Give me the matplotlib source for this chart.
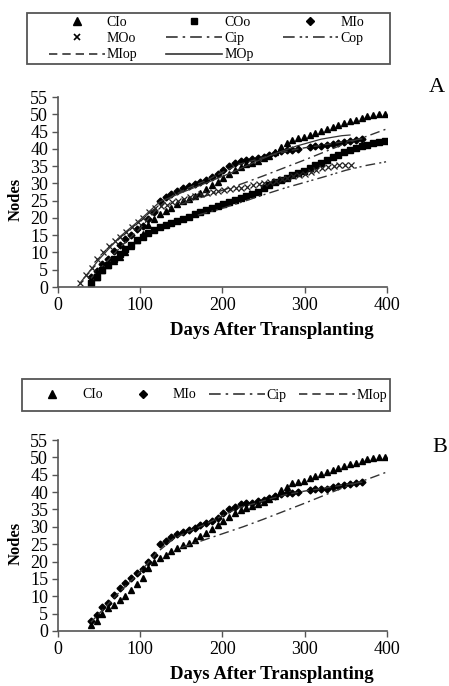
"""Node counts vs days after transplanting: panel A (all series), panel B (subset)."""
import matplotlib
matplotlib.use("Agg")
import matplotlib.pyplot as plt
from matplotlib.lines import Line2D
from matplotlib.patches import Rectangle

plt.rcParams["font.family"] = ["Liberation Serif", "DejaVu Serif"]

# ---------------------------------------------------------------------------
# Data
# ---------------------------------------------------------------------------
CIO_DAYS = [40, 47, 54, 61, 68, 75, 82, 89, 96, 103, 110, 117, 124, 131, 138, 145,
            152, 159, 166, 173, 180, 187, 194, 201, 208, 215, 222, 229, 236, 243,
            250, 257, 264, 271, 278, 285, 292, 299, 306, 313, 320, 327, 334, 341,
            348, 355, 362, 369, 376, 383, 390, 397]
CIO = [1.7, 3.0, 4.8, 6.5, 7.6, 8.8, 10.2, 11.8, 13.6, 15.4, 18.0, 19.8, 21.0, 22.0,
       23.0, 24.0, 24.8, 25.4, 26.3, 27.3, 28.3, 29.4, 30.5, 31.6, 32.8, 34.0, 34.8,
       35.5, 36.0, 36.6, 37.2, 38.0, 39.0, 40.6, 41.6, 42.5, 43.0, 43.3, 44.0, 44.6,
       45.2, 45.8, 46.3, 47.0, 47.6, 48.0, 48.4, 49.0, 49.5, 49.8, 50.2, 50.2]

MIO_DAYS = [40, 47, 54, 61, 68, 75, 82, 89, 96, 103, 110, 117, 124, 131, 138, 145,
            152, 159, 166, 173, 180, 187, 194, 201, 208, 215, 222, 229, 236, 243,
            250, 257, 264, 271, 278, 285, 292, 306, 313, 320, 327, 334, 341, 348,
            355, 362, 369]
MIO = [2.8, 4.5, 6.8, 8.2, 10.5, 12.3, 13.8, 15.2, 16.8, 17.8, 19.8, 21.8, 25.0, 26.0,
       27.0, 27.8, 28.6, 29.2, 29.8, 30.4, 31.0, 31.8, 32.6, 34.0, 35.0, 35.8, 36.6,
       36.8, 37.0, 37.3, 37.6, 38.2, 38.8, 39.4, 39.8, 39.8, 40.0, 40.6, 40.8, 40.9,
       41.0, 41.4, 41.8, 42.1, 42.4, 42.6, 42.8]

COO_DAYS = CIO_DAYS
COO = [1.2, 2.8, 4.8, 6.4, 8.0, 9.6, 11.0, 12.3, 13.5, 14.6, 15.7, 16.6, 17.3, 18.0,
       18.6, 19.2, 19.8, 20.4, 21.0, 21.6, 22.2, 22.8, 23.4, 24.0, 24.6, 25.3, 25.9,
       26.4, 26.8, 27.6, 28.6, 29.6, 30.3, 31.0, 31.7, 32.3, 33.0, 33.6, 34.4, 35.2,
       36.0, 36.8, 37.6, 38.3, 39.0, 39.6, 40.2, 40.7, 41.2, 41.6, 42.0, 42.2]

MOO_DAYS = [27, 34, 41, 48, 55, 62, 69, 76, 83, 90, 97, 104, 111, 118, 125, 132, 139,
            146, 153, 160, 167, 174, 181, 188, 195, 202, 209, 216, 223, 230, 237, 244,
            251, 258, 265, 272, 279, 286, 293, 300, 307, 314, 321, 328, 335, 342, 349,
            356]
MOO = [1.2, 3.5, 5.5, 8.0, 10.0, 11.8, 13.2, 14.6, 16.0, 17.4, 18.8, 20.0, 21.6, 22.8,
       23.4, 23.8, 24.5, 25.0, 25.6, 26.0, 26.4, 26.8, 27.1, 27.4, 27.8, 28.2, 28.4,
       28.6, 28.8, 29.0, 29.4, 29.8, 30.0, 30.4, 30.8, 31.2, 31.6, 32.0, 32.4, 32.8,
       33.2, 33.8, 34.4, 34.8, 35.0, 35.2, 35.4, 35.4]

CIP_DAYS = [150, 175, 200, 225, 250, 275, 300, 325, 350, 375, 400]
CIP = [24.0, 26.0, 28.0, 30.0, 32.2, 34.5, 36.8, 39.2, 41.6, 43.6, 45.8]

COP_DAYS = [170, 200, 225, 250, 275, 300, 325, 350, 375, 400]
COP = [20.8, 22.8, 24.7, 26.7, 28.6, 30.3, 32.0, 33.8, 35.2, 36.3]

MIOP_DAYS = [40, 60, 80, 100, 120, 140, 160, 180, 200, 220, 240, 260, 280, 300, 320,
             340, 360, 370]
MIOP = [2.5, 7.5, 12.5, 17.0, 22.5, 26.5, 28.8, 30.8, 33.2, 35.5, 36.8, 38.2, 39.4,
        40.3, 41.0, 41.8, 42.5, 42.9]

MOP_DAYS = [27, 50, 75, 100, 124, 150, 181, 210, 233, 260, 290, 320, 345, 355]
MOP = [1.2, 8.0, 14.5, 19.5, 24.7, 27.3, 30.2, 33.0, 35.5, 38.3, 40.8, 42.8, 43.8, 44.0]

DASHDOT = (0, (7, 3, 1.5, 3))
DASHDOTDOT = (0, (7, 3, 1.5, 2, 1.5, 3))
DASHED = (0, (5, 3))
MS = 4.4
W, H_PX = 449, 686


def style_axes(ax):
    ax.set_xlim(0, 400)
    ax.set_ylim(0, 55)
    ax.set_xticks(range(0, 401, 100))
    ax.set_yticks(range(0, 56, 5))
    for s in ("top", "right"):
        ax.spines[s].set_visible(False)
    for s in ("left", "bottom"):
        ax.spines[s].set_color("#555555")
        ax.spines[s].set_linewidth(1.2)
    ax.tick_params(direction="out", length=4, width=1, colors="#555555",
                   labelcolor="black", labelsize=13, pad=3)
    ax.set_ylabel("Nodes", fontsize=12, fontweight="bold", labelpad=0)
    ax.set_xlabel("Days After Transplanting", fontsize=13.5, fontweight="bold")
    ax.xaxis.set_label_coords(0.65, -0.185)
    ax.yaxis.set_label_coords(-0.105, 0.46)


def plot_series(ax, full):
    ax.plot(CIO_DAYS, CIO, ls="none", marker="^", ms=MS, color="black")
    ax.plot(MIO_DAYS, MIO, ls="none", marker="D", ms=MS - 0.9, color="black")
    ax.plot(CIP_DAYS, CIP, ls=DASHDOT, lw=1, color="#333333")
    ax.plot(MIOP_DAYS, MIOP, ls=DASHED, lw=1, color="#333333")
    if full:
        ax.plot(COO_DAYS, COO, ls="none", marker="s", ms=MS, color="black")
        ax.plot(MOO_DAYS, MOO, ls="none", marker="x", ms=MS, mew=0.9, color="#222222")
        ax.plot(COP_DAYS, COP, ls=DASHDOTDOT, lw=1, color="#333333")
        ax.plot(MOP_DAYS, MOP, ls="-", lw=0.9, color="#333333")


def box(x0, y0, x1, y1):
    """legend frame given in pixel coords (top-left origin)"""
    fig.patches.append(Rectangle((x0 / W, 1 - y1 / H_PX), (x1 - x0) / W,
                                 (y1 - y0) / H_PX, transform=fig.transFigure,
                                 fill=False, ec="#555555", lw=1.3))


HANDLES = {
    "CIo": Line2D([], [], ls="none", marker="^", ms=MS + 0.8, color="black"),
    "COo": Line2D([], [], ls="none", marker="s", ms=MS + 0.6, color="black"),
    "MIo": Line2D([], [], ls="none", marker="D", ms=MS - 0.2, color="black"),
    "MOo": Line2D([], [], ls="none", marker="x", ms=MS + 0.6, mew=1.2, color="black"),
    "Cip": Line2D([], [], ls=DASHDOT, lw=1.2, color="#333333"),
    "Cop": Line2D([], [], ls=DASHDOTDOT, lw=1.2, color="#333333"),
    "MIop": Line2D([], [], ls=DASHED, lw=1.2, color="#333333"),
    "MOp": Line2D([], [], ls="-", lw=1.2, color="#333333"),
}

fig = plt.figure(figsize=(4.49, 6.86), dpi=100)
ax_a = fig.add_axes([0.129, 0.5816, 0.733, 0.277])
ax_b = fig.add_axes([0.129, 0.0802, 0.733, 0.2784])

plot_series(ax_a, True)
plot_series(ax_b, False)
style_axes(ax_a)
style_axes(ax_b)

# legend A: 3 columns, filled row-wise
order_a = ["CIo", "COo", "MIo", "MOo", "Cip", "Cop", "MIop", "MOp"]
flat = order_a[0::3] + order_a[1::3] + order_a[2::3]
fig.legend([HANDLES[k] for k in flat], flat, ncol=3, loc="center",
           bbox_to_anchor=(0.4600, 1 - 38.5 / H_PX), fontsize=10, frameon=False,
           handlelength=4.0, handletextpad=0.15, labelspacing=0.25,
           borderpad=0, columnspacing=2.1)
box(27, 13, 390, 64)

order_b = ["CIo", "MIo", "Cip", "MIop"]
fig.legend([HANDLES[k] for k in order_b], order_b, ncol=4, loc="center",
           bbox_to_anchor=(206 / W, 1 - 395 / H_PX), fontsize=10, frameon=False,
           handlelength=4.0, handletextpad=0.15, borderpad=0, columnspacing=0.9)
box(22, 379, 390, 411)

fig.text(437 / W, 1 - 88 / H_PX, "A", fontsize=16, ha="center", va="center")
fig.text(440 / W, 1 - 447 / H_PX, "B", fontsize=16, ha="center", va="center")

fig.savefig("out.png", dpi=100)
